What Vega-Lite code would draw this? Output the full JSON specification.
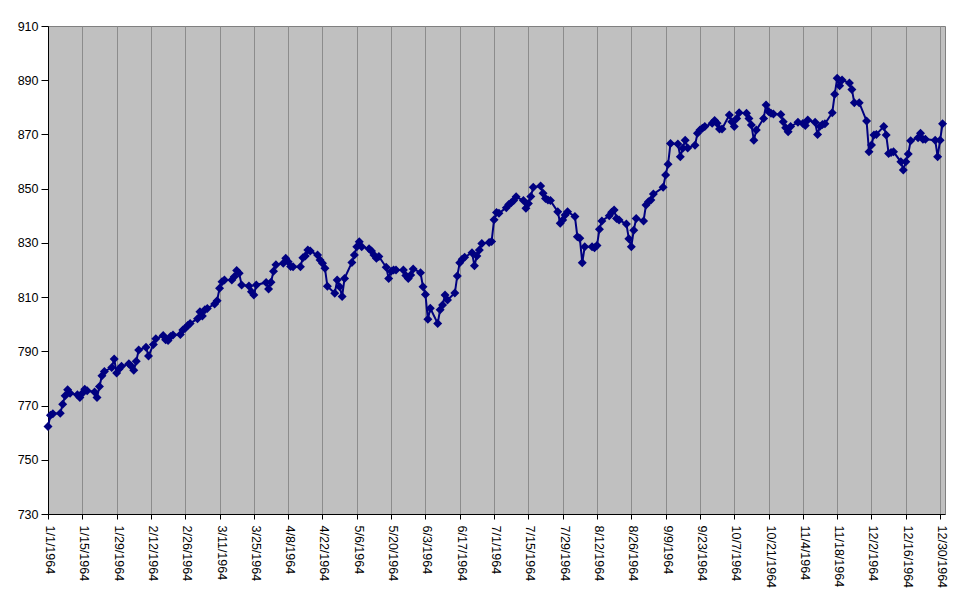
{
  "$schema": "https://vega.github.io/schema/vega-lite/v6.json",
  "width": 897,
  "height": 488,
  "autosize": {"type": "none"},
  "padding": {"left": 48, "top": 26, "right": 26, "bottom": 91},
  "background": "white",
  "config": {
    "view": {"fill": "#C0C0C0", "stroke": "#808080", "strokeWidth": 1},
    "axis": {"labelFont": "Liberation Sans", "labelFontSize": 12.5, "labelColor": "black", "domainColor": "black", "tickColor": "black", "title": null}
  },
  "data": {"values": [
    {"date": "1964/01/01", "close": 762.3}, {"date": "1964/01/02", "close": 766.4}, {"date": "1964/01/03", "close": 767.0},
    {"date": "1964/01/06", "close": 767.2}, {"date": "1964/01/07", "close": 770.5}, {"date": "1964/01/08", "close": 773.6},
    {"date": "1964/01/09", "close": 775.8}, {"date": "1964/01/10", "close": 774.5}, {"date": "1964/01/13", "close": 774.0},
    {"date": "1964/01/14", "close": 773.0}, {"date": "1964/01/15", "close": 774.5}, {"date": "1964/01/16", "close": 776.0},
    {"date": "1964/01/17", "close": 775.5}, {"date": "1964/01/20", "close": 775.0}, {"date": "1964/01/21", "close": 773.0},
    {"date": "1964/01/22", "close": 777.0}, {"date": "1964/01/23", "close": 781.0}, {"date": "1964/01/24", "close": 782.6},
    {"date": "1964/01/27", "close": 784.0}, {"date": "1964/01/28", "close": 787.2}, {"date": "1964/01/29", "close": 782.0},
    {"date": "1964/01/30", "close": 783.5}, {"date": "1964/01/31", "close": 784.5},
    {"date": "1964/02/03", "close": 785.4}, {"date": "1964/02/04", "close": 784.5}, {"date": "1964/02/05", "close": 783.0},
    {"date": "1964/02/06", "close": 786.3}, {"date": "1964/02/07", "close": 790.5}, {"date": "1964/02/10", "close": 791.5},
    {"date": "1964/02/11", "close": 788.3}, {"date": "1964/02/13", "close": 792.5}, {"date": "1964/02/14", "close": 794.6},
    {"date": "1964/02/17", "close": 795.8}, {"date": "1964/02/18", "close": 794.3}, {"date": "1964/02/19", "close": 794.0},
    {"date": "1964/02/20", "close": 795.5}, {"date": "1964/02/21", "close": 796.0}, {"date": "1964/02/24", "close": 796.2},
    {"date": "1964/02/25", "close": 797.9}, {"date": "1964/02/26", "close": 798.5}, {"date": "1964/02/27", "close": 799.5},
    {"date": "1964/02/28", "close": 800.3},
    {"date": "1964/03/02", "close": 802.0}, {"date": "1964/03/03", "close": 804.6}, {"date": "1964/03/04", "close": 803.0},
    {"date": "1964/03/05", "close": 805.3}, {"date": "1964/03/06", "close": 805.8}, {"date": "1964/03/09", "close": 807.5},
    {"date": "1964/03/10", "close": 808.7}, {"date": "1964/03/11", "close": 813.3}, {"date": "1964/03/12", "close": 815.7},
    {"date": "1964/03/13", "close": 816.3}, {"date": "1964/03/16", "close": 816.3}, {"date": "1964/03/17", "close": 817.5},
    {"date": "1964/03/18", "close": 819.8}, {"date": "1964/03/19", "close": 818.8}, {"date": "1964/03/20", "close": 814.5},
    {"date": "1964/03/23", "close": 814.1}, {"date": "1964/03/24", "close": 812.0}, {"date": "1964/03/25", "close": 810.8},
    {"date": "1964/03/26", "close": 814.5}, {"date": "1964/03/30", "close": 815.4}, {"date": "1964/03/31", "close": 813.0},
    {"date": "1964/04/01", "close": 815.5}, {"date": "1964/04/02", "close": 819.5}, {"date": "1964/04/03", "close": 821.9},
    {"date": "1964/04/06", "close": 822.5}, {"date": "1964/04/07", "close": 824.3}, {"date": "1964/04/08", "close": 823.0},
    {"date": "1964/04/09", "close": 821.3}, {"date": "1964/04/10", "close": 821.2}, {"date": "1964/04/13", "close": 821.2},
    {"date": "1964/04/14", "close": 824.5}, {"date": "1964/04/15", "close": 825.2}, {"date": "1964/04/16", "close": 827.4},
    {"date": "1964/04/17", "close": 827.0}, {"date": "1964/04/20", "close": 825.5}, {"date": "1964/04/21", "close": 823.7},
    {"date": "1964/04/22", "close": 822.5}, {"date": "1964/04/23", "close": 820.6}, {"date": "1964/04/24", "close": 814.0},
    {"date": "1964/04/27", "close": 811.4}, {"date": "1964/04/28", "close": 816.3}, {"date": "1964/04/29", "close": 813.8},
    {"date": "1964/04/30", "close": 810.2},
    {"date": "1964/05/01", "close": 816.9}, {"date": "1964/05/04", "close": 822.8}, {"date": "1964/05/05", "close": 825.5},
    {"date": "1964/05/06", "close": 828.6}, {"date": "1964/05/07", "close": 830.4}, {"date": "1964/05/08", "close": 828.6},
    {"date": "1964/05/11", "close": 827.8}, {"date": "1964/05/12", "close": 827.0}, {"date": "1964/05/13", "close": 825.5},
    {"date": "1964/05/14", "close": 824.3}, {"date": "1964/05/15", "close": 825.0}, {"date": "1964/05/18", "close": 821.0},
    {"date": "1964/05/19", "close": 816.9}, {"date": "1964/05/20", "close": 819.5}, {"date": "1964/05/21", "close": 820.0},
    {"date": "1964/05/22", "close": 820.0}, {"date": "1964/05/25", "close": 820.0}, {"date": "1964/05/26", "close": 818.0},
    {"date": "1964/05/27", "close": 816.9}, {"date": "1964/05/28", "close": 818.2}, {"date": "1964/05/29", "close": 820.4},
    {"date": "1964/06/01", "close": 819.0}, {"date": "1964/06/02", "close": 813.8}, {"date": "1964/06/03", "close": 811.0},
    {"date": "1964/06/04", "close": 801.8}, {"date": "1964/06/05", "close": 805.9}, {"date": "1964/06/08", "close": 800.3},
    {"date": "1964/06/09", "close": 805.3}, {"date": "1964/06/10", "close": 807.1}, {"date": "1964/06/11", "close": 810.8},
    {"date": "1964/06/12", "close": 808.9}, {"date": "1964/06/15", "close": 811.5}, {"date": "1964/06/16", "close": 817.8},
    {"date": "1964/06/17", "close": 822.7}, {"date": "1964/06/18", "close": 824.0}, {"date": "1964/06/19", "close": 824.7},
    {"date": "1964/06/22", "close": 826.4}, {"date": "1964/06/23", "close": 821.6}, {"date": "1964/06/24", "close": 825.2},
    {"date": "1964/06/25", "close": 827.4}, {"date": "1964/06/26", "close": 829.8}, {"date": "1964/06/29", "close": 830.1},
    {"date": "1964/06/30", "close": 830.5},
    {"date": "1964/07/01", "close": 838.5}, {"date": "1964/07/02", "close": 841.2}, {"date": "1964/07/03", "close": 840.9},
    {"date": "1964/07/06", "close": 843.0}, {"date": "1964/07/07", "close": 844.2}, {"date": "1964/07/08", "close": 844.8},
    {"date": "1964/07/09", "close": 845.6}, {"date": "1964/07/10", "close": 847.0}, {"date": "1964/07/13", "close": 845.6},
    {"date": "1964/07/14", "close": 842.8}, {"date": "1964/07/15", "close": 844.5}, {"date": "1964/07/16", "close": 847.1},
    {"date": "1964/07/17", "close": 850.5}, {"date": "1964/07/20", "close": 851.0}, {"date": "1964/07/21", "close": 848.3},
    {"date": "1964/07/22", "close": 846.4}, {"date": "1964/07/23", "close": 845.8}, {"date": "1964/07/24", "close": 845.6},
    {"date": "1964/07/27", "close": 841.5}, {"date": "1964/07/28", "close": 837.2}, {"date": "1964/07/29", "close": 838.4},
    {"date": "1964/07/30", "close": 840.3}, {"date": "1964/07/31", "close": 841.5},
    {"date": "1964/08/03", "close": 839.7}, {"date": "1964/08/04", "close": 832.3}, {"date": "1964/08/05", "close": 831.7},
    {"date": "1964/08/06", "close": 822.7}, {"date": "1964/08/07", "close": 828.6}, {"date": "1964/08/10", "close": 828.6},
    {"date": "1964/08/11", "close": 828.2}, {"date": "1964/08/12", "close": 829.0}, {"date": "1964/08/13", "close": 835.0},
    {"date": "1964/08/14", "close": 838.1}, {"date": "1964/08/17", "close": 840.0}, {"date": "1964/08/18", "close": 841.3},
    {"date": "1964/08/19", "close": 842.1}, {"date": "1964/08/20", "close": 839.0}, {"date": "1964/08/21", "close": 838.4},
    {"date": "1964/08/24", "close": 837.0}, {"date": "1964/08/25", "close": 831.5}, {"date": "1964/08/26", "close": 828.6},
    {"date": "1964/08/27", "close": 834.7}, {"date": "1964/08/28", "close": 839.0}, {"date": "1964/08/31", "close": 838.1},
    {"date": "1964/09/01", "close": 844.0}, {"date": "1964/09/02", "close": 845.2}, {"date": "1964/09/03", "close": 845.8},
    {"date": "1964/09/04", "close": 848.0}, {"date": "1964/09/08", "close": 850.5}, {"date": "1964/09/09", "close": 855.0},
    {"date": "1964/09/10", "close": 859.0}, {"date": "1964/09/11", "close": 866.7}, {"date": "1964/09/14", "close": 866.5},
    {"date": "1964/09/15", "close": 861.8}, {"date": "1964/09/16", "close": 864.9}, {"date": "1964/09/17", "close": 867.9},
    {"date": "1964/09/18", "close": 865.0}, {"date": "1964/09/21", "close": 866.0}, {"date": "1964/09/22", "close": 870.4},
    {"date": "1964/09/23", "close": 871.6}, {"date": "1964/09/24", "close": 872.3}, {"date": "1964/09/25", "close": 872.9},
    {"date": "1964/09/28", "close": 874.1}, {"date": "1964/09/29", "close": 875.1}, {"date": "1964/09/30", "close": 874.1},
    {"date": "1964/10/01", "close": 872.0}, {"date": "1964/10/02", "close": 872.0}, {"date": "1964/10/05", "close": 877.2},
    {"date": "1964/10/06", "close": 874.7}, {"date": "1964/10/07", "close": 872.9}, {"date": "1964/10/08", "close": 875.9},
    {"date": "1964/10/09", "close": 878.0}, {"date": "1964/10/12", "close": 877.8}, {"date": "1964/10/13", "close": 875.9},
    {"date": "1964/10/14", "close": 873.5}, {"date": "1964/10/15", "close": 867.9}, {"date": "1964/10/16", "close": 871.6},
    {"date": "1964/10/19", "close": 875.9}, {"date": "1964/10/20", "close": 880.9}, {"date": "1964/10/21", "close": 878.5},
    {"date": "1964/10/22", "close": 877.8}, {"date": "1964/10/23", "close": 877.5}, {"date": "1964/10/26", "close": 877.4},
    {"date": "1964/10/27", "close": 874.7}, {"date": "1964/10/28", "close": 872.5}, {"date": "1964/10/29", "close": 871.0},
    {"date": "1964/10/30", "close": 872.9},
    {"date": "1964/11/02", "close": 874.5}, {"date": "1964/11/04", "close": 874.0}, {"date": "1964/11/05", "close": 873.3},
    {"date": "1964/11/06", "close": 875.3}, {"date": "1964/11/09", "close": 874.5}, {"date": "1964/11/10", "close": 870.0},
    {"date": "1964/11/11", "close": 873.0}, {"date": "1964/11/12", "close": 873.7}, {"date": "1964/11/13", "close": 873.9},
    {"date": "1964/11/16", "close": 878.0}, {"date": "1964/11/17", "close": 884.8}, {"date": "1964/11/18", "close": 890.7},
    {"date": "1964/11/19", "close": 888.0}, {"date": "1964/11/20", "close": 890.1}, {"date": "1964/11/23", "close": 889.0},
    {"date": "1964/11/24", "close": 886.6}, {"date": "1964/11/25", "close": 881.7}, {"date": "1964/11/27", "close": 881.7},
    {"date": "1964/11/30", "close": 875.0},
    {"date": "1964/12/01", "close": 863.6}, {"date": "1964/12/02", "close": 866.1}, {"date": "1964/12/03", "close": 869.8},
    {"date": "1964/12/04", "close": 870.0}, {"date": "1964/12/07", "close": 872.9}, {"date": "1964/12/08", "close": 869.8},
    {"date": "1964/12/09", "close": 863.0}, {"date": "1964/12/10", "close": 863.3}, {"date": "1964/12/11", "close": 863.6},
    {"date": "1964/12/14", "close": 859.9}, {"date": "1964/12/15", "close": 856.9}, {"date": "1964/12/16", "close": 859.9},
    {"date": "1964/12/17", "close": 862.8}, {"date": "1964/12/18", "close": 867.7}, {"date": "1964/12/21", "close": 868.8},
    {"date": "1964/12/22", "close": 870.4}, {"date": "1964/12/23", "close": 868.2}, {"date": "1964/12/24", "close": 868.2},
    {"date": "1964/12/28", "close": 867.9}, {"date": "1964/12/29", "close": 861.8}, {"date": "1964/12/30", "close": 867.9},
    {"date": "1964/12/31", "close": 873.9}
  ]},
  "encoding": {
    "x": {
      "field": "date", "type": "temporal",
      "scale": {"domain": [{"year": 1964, "month": 1, "date": 1}, {"year": 1965, "month": 1, "date": 1}], "nice": false},
      "axis": {
        "values": [
          {"year": 1964, "month": 1, "date": 1}, {"year": 1964, "month": 1, "date": 15}, {"year": 1964, "month": 1, "date": 29},
          {"year": 1964, "month": 2, "date": 12}, {"year": 1964, "month": 2, "date": 26}, {"year": 1964, "month": 3, "date": 11},
          {"year": 1964, "month": 3, "date": 25}, {"year": 1964, "month": 4, "date": 8}, {"year": 1964, "month": 4, "date": 22},
          {"year": 1964, "month": 5, "date": 6}, {"year": 1964, "month": 5, "date": 20}, {"year": 1964, "month": 6, "date": 3},
          {"year": 1964, "month": 6, "date": 17}, {"year": 1964, "month": 7, "date": 1}, {"year": 1964, "month": 7, "date": 15},
          {"year": 1964, "month": 7, "date": 29}, {"year": 1964, "month": 8, "date": 12}, {"year": 1964, "month": 8, "date": 26},
          {"year": 1964, "month": 9, "date": 9}, {"year": 1964, "month": 9, "date": 23}, {"year": 1964, "month": 10, "date": 7},
          {"year": 1964, "month": 10, "date": 21}, {"year": 1964, "month": 11, "date": 4}, {"year": 1964, "month": 11, "date": 18},
          {"year": 1964, "month": 12, "date": 2}, {"year": 1964, "month": 12, "date": 16}, {"year": 1964, "month": 12, "date": 30}
        ],
        "format": "%-m/%-d/%Y",
        "labelAngle": 90, "labelAlign": "left", "labelBaseline": "middle", "labelOffset": 1.5,
        "labelFlush": false, "labelOverlap": false,
        "grid": true, "gridColor": "#8C8C8C", "gridWidth": 1,
        "tickSize": 5, "labelPadding": 6
      }
    },
    "y": {
      "field": "close", "type": "quantitative",
      "scale": {"domain": [730, 910], "nice": false, "zero": false},
      "axis": {
        "values": [730, 750, 770, 790, 810, 830, 850, 870, 890, 910],
        "grid": false, "tickSize": 7, "labelPadding": 3
      }
    }
  },
  "layer": [
    {"mark": {"type": "line", "color": "#000080", "strokeWidth": 2}},
    {"mark": {"type": "point", "shape": "diamond", "filled": true, "size": 81, "color": "#000080", "opacity": 1}}
  ]
}
